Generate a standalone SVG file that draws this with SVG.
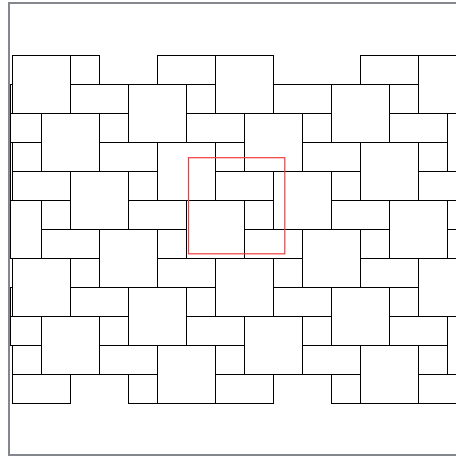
<svg xmlns="http://www.w3.org/2000/svg" width="456" height="457" viewBox="0 0 456 457">
<style>
.t{fill:#fff;stroke:#000;stroke-width:1}
.frame{fill:none;stroke:#85878e;stroke-width:2}
.sel{fill:none;stroke:#f03c3c;stroke-width:1.2}
</style>
<rect x="0" y="0" width="456" height="457" fill="#fff"/>
<rect class="frame" x="9" y="3" width="452" height="452"/>
<g id="tiles">
<!-- row 0 -->
<rect class="t" x="12.5" y="55.5" width="58" height="58"/>
<rect class="t" x="70.5" y="55.5" width="29" height="29"/>
<rect class="t" x="157.5" y="55.5" width="58" height="29"/>
<rect class="t" x="215.5" y="55.5" width="58" height="58"/>
<rect class="t" x="360.5" y="55.5" width="58" height="29"/>
<rect class="t" x="418.5" y="55.5" width="58" height="58"/>
<!-- row 1 -->
<rect class="t" x="10.5" y="84.5" width="2" height="29"/>
<rect class="t" x="70.5" y="84.5" width="58" height="29"/>
<rect class="t" x="128.5" y="84.5" width="58" height="58"/>
<rect class="t" x="186.5" y="84.5" width="29" height="29"/>
<rect class="t" x="273.5" y="84.5" width="58" height="29"/>
<rect class="t" x="331.5" y="84.5" width="58" height="58"/>
<rect class="t" x="389.5" y="84.5" width="29" height="29"/>
<!-- row 2 -->
<rect class="t" x="10.5" y="113.5" width="31" height="29"/>
<rect class="t" x="41.5" y="113.5" width="58" height="58"/>
<rect class="t" x="99.5" y="113.5" width="29" height="29"/>
<rect class="t" x="186.5" y="113.5" width="58" height="29"/>
<rect class="t" x="244.5" y="113.5" width="58" height="58"/>
<rect class="t" x="302.5" y="113.5" width="29" height="29"/>
<rect class="t" x="389.5" y="113.5" width="58" height="29"/>
<rect class="t" x="447.5" y="113.5" width="58" height="58"/>
<!-- row 3 -->
<rect class="t" x="10.5" y="142.5" width="2" height="58"/>
<rect class="t" x="12.5" y="142.5" width="29" height="29"/>
<rect class="t" x="99.5" y="142.5" width="58" height="29"/>
<rect class="t" x="157.5" y="142.5" width="58" height="58"/>
<rect class="t" x="215.5" y="142.5" width="29" height="29"/>
<rect class="t" x="302.5" y="142.5" width="58" height="29"/>
<rect class="t" x="360.5" y="142.5" width="58" height="58"/>
<rect class="t" x="418.5" y="142.5" width="29" height="29"/>
<!-- row 4 -->
<rect class="t" x="12.5" y="171.5" width="58" height="29"/>
<rect class="t" x="70.5" y="171.5" width="58" height="58"/>
<rect class="t" x="128.5" y="171.5" width="29" height="29"/>
<rect class="t" x="215.5" y="171.5" width="58" height="29"/>
<rect class="t" x="273.5" y="171.5" width="58" height="58"/>
<rect class="t" x="331.5" y="171.5" width="29" height="29"/>
<rect class="t" x="418.5" y="171.5" width="58" height="29"/>
<!-- row 5 -->
<rect class="t" x="10.5" y="200.5" width="31" height="58"/>
<rect class="t" x="41.5" y="200.5" width="29" height="29"/>
<rect class="t" x="128.5" y="200.5" width="58" height="29"/>
<rect class="t" x="186.5" y="200.5" width="58" height="58"/>
<rect class="t" x="244.5" y="200.5" width="29" height="29"/>
<rect class="t" x="331.5" y="200.5" width="58" height="29"/>
<rect class="t" x="389.5" y="200.5" width="58" height="58"/>
<rect class="t" x="447.5" y="200.5" width="29" height="29"/>
<!-- row 6 -->
<rect class="t" x="41.5" y="229.5" width="58" height="29"/>
<rect class="t" x="99.5" y="229.5" width="58" height="58"/>
<rect class="t" x="157.5" y="229.5" width="29" height="29"/>
<rect class="t" x="244.5" y="229.5" width="58" height="29"/>
<rect class="t" x="302.5" y="229.5" width="58" height="58"/>
<rect class="t" x="360.5" y="229.5" width="29" height="29"/>
<rect class="t" x="447.5" y="229.5" width="58" height="29"/>
<!-- row 7 -->
<rect class="t" x="12.5" y="258.5" width="58" height="58"/>
<rect class="t" x="70.5" y="258.5" width="29" height="29"/>
<rect class="t" x="157.5" y="258.5" width="58" height="29"/>
<rect class="t" x="215.5" y="258.5" width="58" height="58"/>
<rect class="t" x="273.5" y="258.5" width="29" height="29"/>
<rect class="t" x="360.5" y="258.5" width="58" height="29"/>
<rect class="t" x="418.5" y="258.5" width="58" height="58"/>
<!-- row 8 -->
<rect class="t" x="10.5" y="287.5" width="2" height="29"/>
<rect class="t" x="70.5" y="287.5" width="58" height="29"/>
<rect class="t" x="128.5" y="287.5" width="58" height="58"/>
<rect class="t" x="186.5" y="287.5" width="29" height="29"/>
<rect class="t" x="273.5" y="287.5" width="58" height="29"/>
<rect class="t" x="331.5" y="287.5" width="58" height="58"/>
<rect class="t" x="389.5" y="287.5" width="29" height="29"/>
<!-- row 9 -->
<rect class="t" x="10.5" y="316.5" width="31" height="29"/>
<rect class="t" x="41.5" y="316.5" width="58" height="58"/>
<rect class="t" x="99.5" y="316.5" width="29" height="29"/>
<rect class="t" x="186.5" y="316.5" width="58" height="29"/>
<rect class="t" x="244.5" y="316.5" width="58" height="58"/>
<rect class="t" x="302.5" y="316.5" width="29" height="29"/>
<rect class="t" x="389.5" y="316.5" width="58" height="29"/>
<rect class="t" x="447.5" y="316.5" width="58" height="58"/>
<!-- row 10 -->
<rect class="t" x="12.5" y="345.5" width="29" height="29"/>
<rect class="t" x="99.5" y="345.5" width="58" height="29"/>
<rect class="t" x="157.5" y="345.5" width="58" height="58"/>
<rect class="t" x="215.5" y="345.5" width="29" height="29"/>
<rect class="t" x="302.5" y="345.5" width="58" height="29"/>
<rect class="t" x="360.5" y="345.5" width="58" height="58"/>
<rect class="t" x="418.5" y="345.5" width="29" height="29"/>
<!-- row 11 -->
<rect class="t" x="12.5" y="374.5" width="58" height="29"/>
<rect class="t" x="128.5" y="374.5" width="29" height="29"/>
<rect class="t" x="215.5" y="374.5" width="58" height="29"/>
<rect class="t" x="331.5" y="374.5" width="29" height="29"/>
<rect class="t" x="418.5" y="374.5" width="58" height="29"/>
</g>
<g id="selection">
<rect class="sel" x="188.5" y="157.7" width="96.3" height="96.1"/>
</g>
</svg>
